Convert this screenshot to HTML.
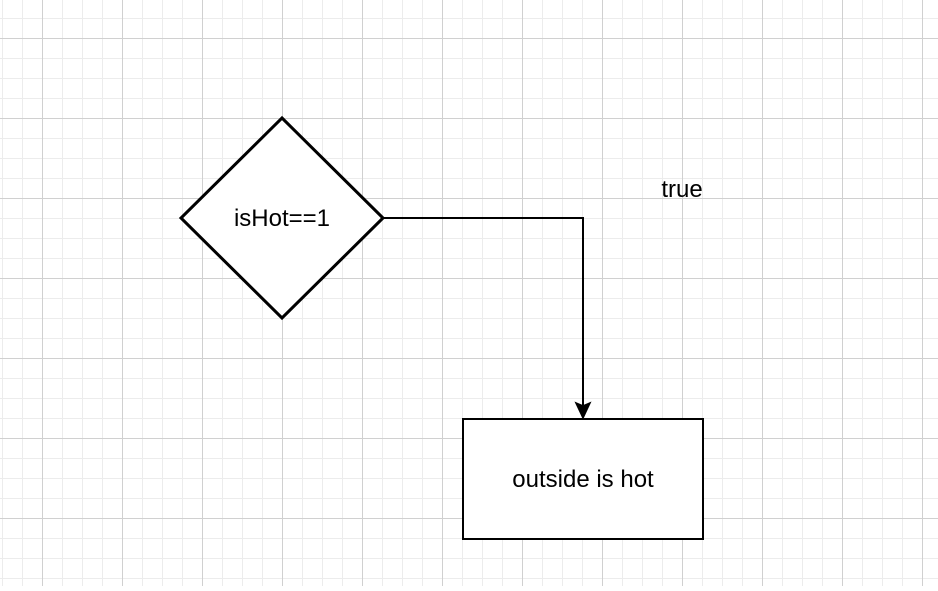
<!DOCTYPE html>
<html><head><style>
html,body{margin:0;padding:0;}
body{width:938px;height:586px;overflow:hidden;background:#fff;}
</style></head><body>
<svg width="938" height="586" xmlns="http://www.w3.org/2000/svg">
<defs>
<pattern id="minor" x="2" y="18" width="20" height="20" patternUnits="userSpaceOnUse">
<path d="M0 0.5H20M0.5 0V20" stroke="#ececec" stroke-width="1" fill="none"/>
</pattern>
<pattern id="major" x="42" y="38" width="80" height="80" patternUnits="userSpaceOnUse">
<path d="M0 0.5H80M0.5 0V80" stroke="#d0d0d0" stroke-width="1" fill="none"/>
</pattern>
</defs>
<rect width="938" height="586" fill="url(#minor)"/>
<rect width="938" height="586" fill="url(#major)"/>
<polygon points="282,118 383,218 282,318 181,218" fill="#fff" stroke="#000" stroke-width="3"/>
<text x="282" y="226" font-family="Liberation Sans, sans-serif" font-size="24" text-anchor="middle">isHot==1</text>
<path d="M383 218H583V405" fill="none" stroke="#000" stroke-width="2"/>
<polygon points="576,403 583,418 590,403 583,406" fill="#000" stroke="#000" stroke-width="1.5"/>
<rect x="463" y="419" width="240" height="120" fill="#fff" stroke="#000" stroke-width="2"/>
<text x="583" y="487" font-family="Liberation Sans, sans-serif" font-size="24" text-anchor="middle">outside is hot</text>
<text x="682" y="197" font-family="Liberation Sans, sans-serif" font-size="24" text-anchor="middle">true</text>
</svg>
</body></html>
